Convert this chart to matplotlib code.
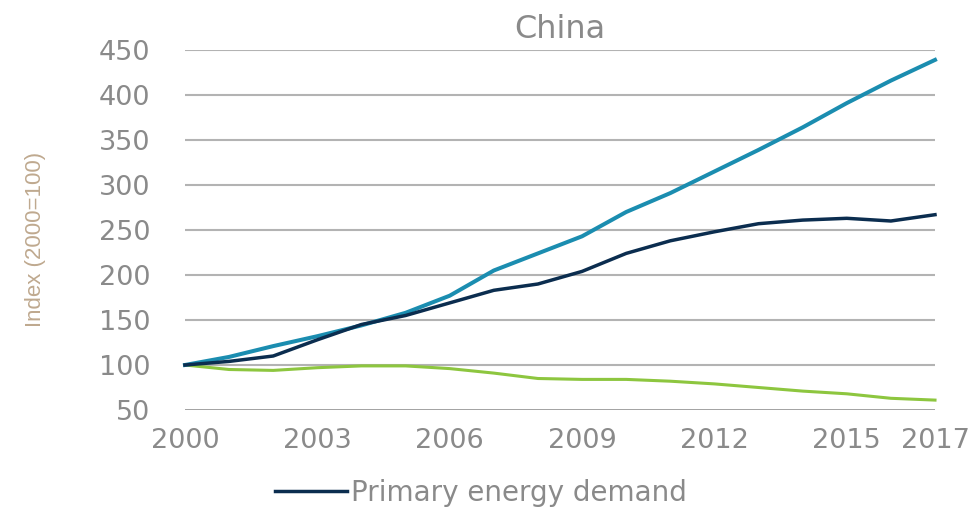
import matplotlib
matplotlib.use("Agg")
import matplotlib.pyplot as plt

years = list(range(2000, 2018))
gdp = [100, 109, 121, 132, 144, 158, 177, 205, 224, 243, 270, 291, 315, 339, 364, 391, 416, 439]
energy_demand = [100, 104, 110, 128, 145, 155, 169, 183, 190, 204, 224, 238, 248, 257, 261, 263, 260, 267]
energy_intensity = [100, 95, 94, 97, 99, 99, 96, 91, 85, 84, 84, 82, 79, 75, 71, 68, 63, 61]

xticks = [2000, 2003, 2006, 2009, 2012, 2015, 2017]
yticks = [50, 100, 150, 200, 250, 300, 350, 400, 450]

text_grey = "#8a8a8a"

fig = plt.figure(figsize=(9.71, 5.08), dpi=100)
ax = fig.add_axes([185 / 971, 1 - 410 / 508, 750 / 971, 360 / 508])

for v in yticks:
    if v == 50:
        ax.axhline(v, color="#999999", lw=2.0, zorder=1)
    else:
        ax.axhline(v, color="#b3b3b3", lw=1.5, zorder=1)

ax.plot(years, energy_intensity, color="#8dc63f", lw=2.2, label="_intensity", zorder=3, clip_on=False)
ax.plot(years, gdp, color="#1b8db0", lw=2.9, label="_gdp", zorder=4, clip_on=False)
ax.plot(years, energy_demand, color="#0b2d4f", lw=2.5, label="Primary energy demand", zorder=5, clip_on=False)

ax.set_xlim(2000, 2017)
ax.set_ylim(50, 450)
ax.set_xticks(xticks)
ax.set_yticks(yticks)
ax.tick_params(axis="both", length=0, labelsize=19.5, labelcolor=text_grey)
ax.tick_params(axis="y", pad=25)
ax.tick_params(axis="x", pad=13)
for s in ax.spines.values():
    s.set_visible(False)

ax.set_title("China", fontsize=23, color=text_grey, pad=9)

fig.text(35 / 971, 1 - 239 / 508, "Index (2000=100)", rotation=90, ha="center", va="center",
         fontsize=16, color="#bfa98f", family="Liberation Sans")

leg = fig.legend(loc="center", bbox_to_anchor=(481 / 971, 1 - 493 / 508), frameon=False,
                 fontsize=20, handlelength=2.6, handletextpad=0.15, borderpad=0, borderaxespad=0)
for t in leg.get_texts():
    t.set_color(text_grey)

fig.savefig("out.png", dpi=100)
